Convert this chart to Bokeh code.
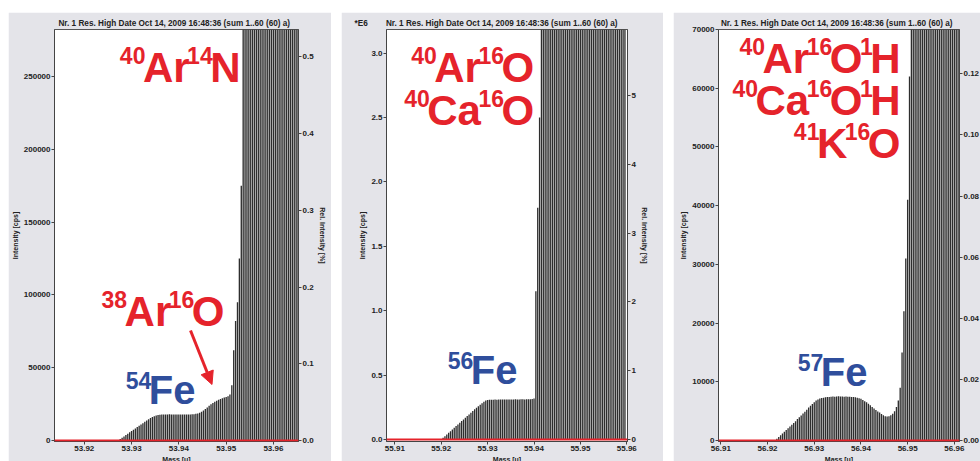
import numpy as np
from bokeh.plotting import figure
from bokeh.models import (Range1d, LinearAxis, Label, Span, Arrow, NormalHead, FixedTicker,
                          PrintfTickFormatter, CustomJSTickFormatter, Spacer)
from bokeh.layouts import row, column
from bokeh.embed import file_html
from bokeh.resources import INLINE

# ---------------------------------------------------------------- data
TITLE = "Nr. 1  Res. High  Date Oct 14, 2009 16:48:36 (sum 1..60 (60) a)"
SCALE_NOTE_56 = "*E6"
MASS_STEP = 0.0004  # spacing of the acquisition channels [u]

# --- mass 54 window
mass_start_54 = 53.9272
intensity_54 = [
    200, 1000, 1900, 2800, 3700, 4700, 5600, 6500, 7400, 8300, 9200, 10100,
    11000, 11900, 12800, 13700, 14600, 15400, 16100, 16700, 17200, 17500,
    17700, 17800, 17900, 17800, 17900, 18000, 17900, 17800, 17900, 17800,
    17900, 17800, 17800, 17900, 17800, 17900, 17900, 18000, 18100,
    18300, 18600, 19100, 19800, 20600, 21600, 22700, 23800, 24900, 25800,
    26600, 27300, 27900, 28500, 29000, 29500, 29900, 30300,
    31500, 38000, 62000, 82000, 95000, 125000, 175000,
    # off-scale part of the 40Ar14N peak (estimated, above the plotted range)
    310000, 420000, 560000, 700000, 850000, 990000, 1120000, 1240000, 1350000,
    1450000, 1540000, 1620000, 1690000, 1750000, 1800000, 1840000, 1870000,
    1890000, 1900000, 1910000, 1910000, 1900000, 1890000, 1870000, 1850000,
    1820000, 1790000, 1750000, 1710000, 1670000,
]
x_ticks_54 = [53.92, 53.93, 53.94, 53.95, 53.96]
y_ticks_54 = [0, 50000, 100000, 150000, 200000, 250000]
rel_ticks_54 = [0.0, 0.1, 0.2, 0.3, 0.4, 0.5]

# --- mass 56 window
mass_start_56 = 55.9200
intensity_56 = [
    2000, 13000, 26000, 39000, 52000, 65000, 78000, 91000, 104000, 117000,
    130000, 143000, 156000, 169000, 182000, 195000, 208000, 221000, 234000,
    246000, 258000, 270000, 282000, 293000, 302000, 306000, 308000,
    309000, 309000, 310000, 309000, 310000, 310000, 311000, 310000, 310000,
    311000, 311000, 310000, 311000, 312000, 311000, 311000, 312000, 312000,
    311000, 312000, 312000, 313000,
    314000, 318000,
    1150000, 1800000, 2500000,
    # off-scale part of the 40Ar16O peak (estimated)
    3300000, 3900000, 4500000, 5000000, 5500000, 5900000, 6300000, 6600000,
    6900000, 7100000, 7300000, 7400000, 7500000, 7600000, 7600000, 7600000,
    7500000, 7500000, 7400000, 7300000, 7200000, 7100000, 7000000, 6900000,
    6800000, 6700000, 6600000, 6500000, 6400000, 6300000, 6200000, 6100000,
    6000000, 5900000, 5800000, 5700000, 5600000, 5500000, 5400000, 5300000,
    5200000, 5100000, 5000000, 4900000, 4800000, 4700000,
]
x_ticks_56 = [55.91, 55.92, 55.93, 55.94, 55.95, 55.96]
y_ticks_56 = [0, 500000, 1000000, 1500000, 2000000, 2500000, 3000000]
rel_ticks_56 = [0, 1, 2, 3, 4, 5]

# --- mass 57 window
mass_start_57 = 56.9216
intensity_57 = [
    100, 300, 600, 900, 1200, 1500, 1800, 2100, 2400, 2700, 3000, 3300,
    3650, 3950, 4250, 4600, 4900, 5250, 5600, 5900, 6200, 6500, 6800, 7000,
    7150, 7250, 7300, 7350, 7400, 7400, 7450, 7500, 7450, 7500, 7550, 7500,
    7500, 7450, 7500, 7450, 7450, 7400, 7400, 7350, 7300, 7200, 7100, 6900,
    6700, 6500, 6250, 6000, 5700, 5450, 5200, 4950, 4750, 4500, 4300, 4150,
    4100, 4150, 4300, 4550, 5000, 5700, 6800, 9000, 15000, 22000, 31000,
    41000, 62000,
    # off-scale part of the 40Ar16O1H peak (estimated)
    90000, 130000, 180000, 230000, 280000, 320000, 360000, 390000, 410000,
    430000, 440000, 450000, 450000, 450000, 440000, 430000, 420000, 410000,
    400000, 390000, 380000, 370000, 360000, 350000, 340000, 330000,
]
x_ticks_57 = [56.91, 56.92, 56.93, 56.94, 56.95, 56.96]
y_ticks_57 = [0, 10000, 20000, 30000, 40000, 50000, 60000, 70000]
rel_ticks_57 = [0.00, 0.02, 0.04, 0.06, 0.08, 0.10, 0.12]

# ---------------------------------------------------------------- style
FONT = "Liberation Sans"
PANEL_BG = "#e4e4e9"
STICK = "#2e2e2e"
RED = "#e5232b"
BLUE = "#2f4e9c"
PAGE_TOP = 12
PAGE_BOTTOM = 461
TIGHT = 2.5        # pixels removed between formula pieces
MID_SHIFT = 0.35   # distance (em) from text middle to alphabetic baseline

# advance widths of Liberation Sans Bold (per 1000 em)
ADV = {str(d): 556 for d in range(10)}
ADV.update({'A': 722, 'r': 389, 'N': 722, 'O': 778, 'C': 722, 'a': 556,
            'H': 722, 'K': 722, 'F': 611, 'e': 556})


def tw(s, size):
    return sum(ADV[c] for c in s) * size / 1000.0


def px_to_data(cfg, px, py):
    fl, ft, fr, fb = cfg["frame"]
    x0, x1 = cfg["x"]
    y0, y1 = cfg["y"]
    return (x0 + (px - fl) / (fr - fl) * (x1 - x0),
            y0 + (fb - py) / (fb - ft) * (y1 - y0))


def make_panel(cfg, mass_start, values, xt, yt, rt, yfmt, rfmt, rel_label=True, note=None):
    fl, ft, fr, fb = cfg["frame"]
    cl, cr = cfg["canvas"]
    p = figure(frame_width=fr - fl, frame_height=fb - ft,
               x_range=Range1d(*cfg["x"]), y_range=Range1d(*cfg["y"]),
               output_backend="svg", toolbar_location=None,
               min_border_left=fl - cl, min_border_right=cr - fr,
               min_border_top=ft - PAGE_TOP, min_border_bottom=PAGE_BOTTOM - fb,
               background_fill_color="white", border_fill_color=PANEL_BG)
    if note is None:
        p.title.text = TITLE
        p.title.align = "center"
    else:
        # scale note at the top-left corner, on the same line as the title
        p.title.text = note + "\u00a0" * 8 + TITLE
        p.title.align = "left"
        p.title.offset = -32
    p.title.text_font = FONT
    p.title.text_font_size = "8.2px"
    p.title.text_font_style = "bold"
    p.title.text_color = "#222222"
    p.title.standoff = 3
    p.outline_line_color = "#555555"
    p.grid.visible = False

    masses = mass_start + MASS_STEP * np.arange(len(values))
    p.vbar(x=masses, top=values, bottom=0, width=MASS_STEP * 0.72,
           fill_color=STICK, line_color=None)
    p.add_layout(Span(location=0, dimension="width", line_color=RED, line_width=2))

    f = cfg["rel"]
    p.extra_y_ranges = {"rel": Range1d(cfg["y"][0] / f, cfg["y"][1] / f)}
    rax = LinearAxis(y_range_name="rel", axis_label="Rel. Intensity [%]" if rel_label else None)
    p.add_layout(rax, "right")

    p.xaxis.ticker = FixedTicker(ticks=xt, minor_ticks=[])
    p.xaxis.formatter = PrintfTickFormatter(format="%.2f")
    p.xaxis.axis_label = "Mass [u]"
    p.yaxis[0].ticker = FixedTicker(ticks=yt, minor_ticks=[])
    p.yaxis[0].formatter = yfmt
    p.yaxis[0].axis_label = "Intensity [cps]"
    rax.ticker = FixedTicker(ticks=rt, minor_ticks=[])
    rax.formatter = rfmt

    for ax in p.axis:
        ax.major_label_text_font = FONT
        ax.major_label_text_font_size = "8px"
        ax.major_label_text_font_style = "bold"
        ax.major_label_text_color = "#222222"
        ax.axis_label_text_font = FONT
        ax.axis_label_text_font_size = "7px"
        ax.axis_label_text_font_style = "bold"
        ax.axis_label_text_color = "#222222"
        ax.axis_label_standoff = 2
        ax.major_label_standoff = 1
        ax.major_tick_in = 0
        ax.major_tick_out = 3
        ax.minor_tick_in = 0
        ax.minor_tick_out = 0
        ax.axis_line_color = "#444444"
        ax.major_tick_line_color = "#444444"
    return p


def formula(p, cfg, pieces, right_px, base_px, main, sup, raise_px, color):
    total = sum(tw(t, sup if s else main) for t, s in pieces) - TIGHT * (len(pieces) - 1)
    x = right_px - total
    for t, s in pieces:
        size = sup if s else main
        base = base_px - (raise_px if s else 0)
        dx, dy = px_to_data(cfg, x, base - MID_SHIFT * size)
        p.add_layout(Label(x=dx, y=dy, text=t, text_font=FONT, text_font_size=f"{size}px",
                           text_font_style="bold", text_color=color,
                           text_align="left", text_baseline="middle"))
        x += tw(t, size) - TIGHT


cfg54 = dict(canvas=(8, 329), frame=(52, 29, 296, 441),
             x=(53.9137, 53.9653), y=(-700, 282300), rel=527000)
cfg56 = dict(canvas=(339, 661), frame=(384, 29, 625, 441),
             x=(55.9082, 55.96015), y=(-15500, 3183000), rel=534200)
cfg57 = dict(canvas=(671, 980), frame=(716, 29, 957, 441),
             x=(56.9095, 56.9611), y=(-170, 70000), rel=520400)

p1 = make_panel(cfg54, mass_start_54, intensity_54, x_ticks_54, y_ticks_54, rel_ticks_54,
                PrintfTickFormatter(format="%d"), PrintfTickFormatter(format="%.1f"))
p2 = make_panel(cfg56, mass_start_56, intensity_56, x_ticks_56, y_ticks_56, rel_ticks_56,
                CustomJSTickFormatter(code="return (tick/1e6).toFixed(1)"),
                PrintfTickFormatter(format="%d"), note=SCALE_NOTE_56)
p3 = make_panel(cfg57, mass_start_57, intensity_57, x_ticks_57, y_ticks_57, rel_ticks_57,
                PrintfTickFormatter(format="%d"), PrintfTickFormatter(format="%.2f"),
                rel_label=False)

MAIN, SUP, RAISE = 42, 23, 19
FE, FE_SUP, FE_RAISE = 40, 23, 15

# panel 54
formula(p1, cfg54, [("40", 1), ("Ar", 0), ("14", 1), ("N", 0)], 238, 81.7, MAIN, SUP, RAISE, RED)
formula(p1, cfg54, [("38", 1), ("Ar", 0), ("16", 1), ("O", 0)], 222, 326, MAIN, SUP, RAISE, RED)
formula(p1, cfg54, [("54", 1), ("Fe", 0)], 193, 403.3, FE, FE_SUP, FE_RAISE, BLUE)
ax0, ay0 = px_to_data(cfg54, 188, 330)
ax1, ay1 = px_to_data(cfg54, 209.5, 384)
p1.add_layout(Arrow(end=NormalHead(size=13, fill_color=RED, line_color=RED),
                    x_start=ax0, y_start=ay0, x_end=ax1, y_end=ay1,
                    line_color=RED, line_width=3))

# panel 56
formula(p2, cfg56, [("40", 1), ("Ar", 0), ("16", 1), ("O", 0)], 531.7, 81.7, MAIN, SUP, RAISE, RED)
formula(p2, cfg56, [("40", 1), ("Ca", 0), ("16", 1), ("O", 0)], 531.7, 125, MAIN, SUP, RAISE, RED)
formula(p2, cfg56, [("56", 1), ("Fe", 0)], 515, 383.3, FE, FE_SUP, FE_RAISE, BLUE)

# panel 57
formula(p3, cfg57, [("40", 1), ("Ar", 0), ("16", 1), ("O", 0), ("1", 1), ("H", 0)], 898, 72.7, MAIN, SUP, RAISE, RED)
formula(p3, cfg57, [("40", 1), ("Ca", 0), ("16", 1), ("O", 0), ("1", 1), ("H", 0)], 898, 115, MAIN, SUP, RAISE, RED)
formula(p3, cfg57, [("41", 1), ("K", 0), ("16", 1), ("O", 0)], 898, 158, MAIN, SUP, RAISE, RED)
formula(p3, cfg57, [("57", 1), ("Fe", 0)], 865, 385, FE, FE_SUP, FE_RAISE, BLUE)

layout = column(Spacer(height=PAGE_TOP),
                row(Spacer(width=8), p1, Spacer(width=10), p2, Spacer(width=10), p3))

open("out.html", "w").write(file_html(layout, INLINE))
